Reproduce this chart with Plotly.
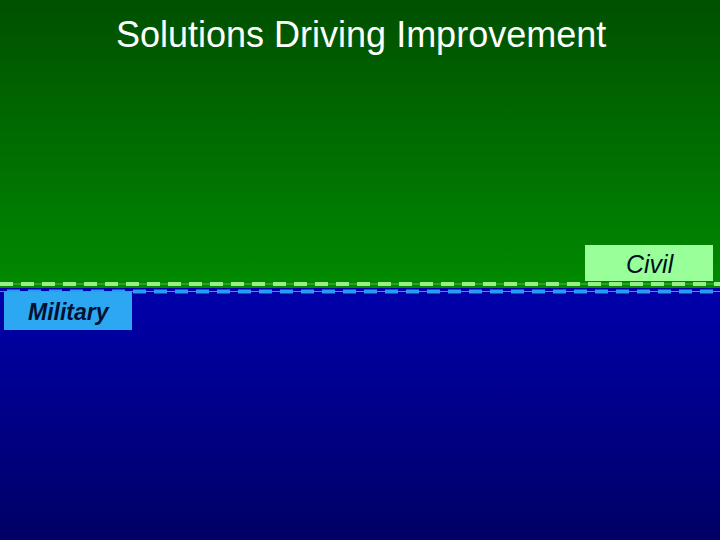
import plotly.graph_objects as go

# ---- data / text ----
title_text = "Solutions Driving Improvement"
region_names = ["Civil", "Military"]
region_top = [0, 288]          # y of region top (pixels, from top)
region_bottom = [288, 540]
region_colors_top = ["#005000", "#0000AC"]
region_colors_bottom = ["#008A00", "#000066"]
label_boxes_x0 = [585, 4]
label_boxes_x1 = [713, 132]
label_boxes_y0 = [245, 292]
label_boxes_y1 = [281, 330]
label_fill = ["#99FF99", "#2CA8F2"]
label_font_color = ["#001020", "#001030"]
label_font_size = [25, 23]
label_bold = [False, True]
divider_y = [284, 291.5]
divider_dash_color = ["#99EE88", "#2A9CF0"]
divider_thin_color = ["#55BB55", "#4C88E8"]
divider_x_start = [0, -14]

W, H = 720, 540

fig = go.Figure()

for i, name in enumerate(region_names):
    y0, y1 = region_top[i], region_bottom[i]
    fig.add_trace(go.Scatter(
        x=[0, W, W, 0, 0], y=[y0, y0, y1, y1, y0],
        mode="lines", line=dict(width=0), fill="toself",
        fillgradient=dict(type="vertical", start=y0, stop=y1,
                          colorscale=[[0, region_colors_top[i]], [1, region_colors_bottom[i]]]),
        hoverinfo="skip", showlegend=False, name=name))

shapes = []
for i in range(2):
    shapes.append(dict(type="line", xref="x", yref="y", x0=divider_x_start[i], x1=W,
                       y0=divider_y[i], y1=divider_y[i],
                       line=dict(color=divider_thin_color[i], width=1)))
    shapes.append(dict(type="line", xref="x", yref="y", x0=divider_x_start[i], x1=W,
                       y0=divider_y[i], y1=divider_y[i],
                       line=dict(color=divider_dash_color[i], width=4, dash="13px,8px")))

annotations = []
for i, name in enumerate(region_names):
    shapes.append(dict(type="rect", xref="x", yref="y",
                       x0=label_boxes_x0[i], x1=label_boxes_x1[i],
                       y0=label_boxes_y0[i], y1=label_boxes_y1[i],
                       fillcolor=label_fill[i], line=dict(width=0), layer="above"))
    txt = "<i>" + name + "</i>"
    if label_bold[i]:
        txt = "<b>" + txt + "</b>"
    annotations.append(dict(x=(label_boxes_x0[i] + label_boxes_x1[i]) / 2 + 1,
                            y=(label_boxes_y0[i] + label_boxes_y1[i]) / 2 + 1,
                            xref="x", yref="y", text=txt,
                            showarrow=False,
                            font=dict(family="Liberation Sans, Arial", size=label_font_size[i],
                                      color=label_font_color[i]),
                            xanchor="center", yanchor="middle"))

annotations.append(dict(x=361, y=34, xref="x", yref="y", text=title_text, showarrow=False,
                        font=dict(family="Liberation Sans, Arial", size=36, color="white"),
                        xanchor="center", yanchor="middle"))

fig.update_layout(
    width=W, height=H, margin=dict(l=0, r=0, t=0, b=0),
    paper_bgcolor="#000066", plot_bgcolor="#000066",
    xaxis=dict(range=[0, W], visible=False, fixedrange=True),
    yaxis=dict(range=[H, 0], visible=False, fixedrange=True),
    shapes=shapes, annotations=annotations, showlegend=False)

fig.write_html("out.html", config={"displayModeBar": False},
               post_script="document.body.style.margin='0';document.body.style.overflow='hidden';")
